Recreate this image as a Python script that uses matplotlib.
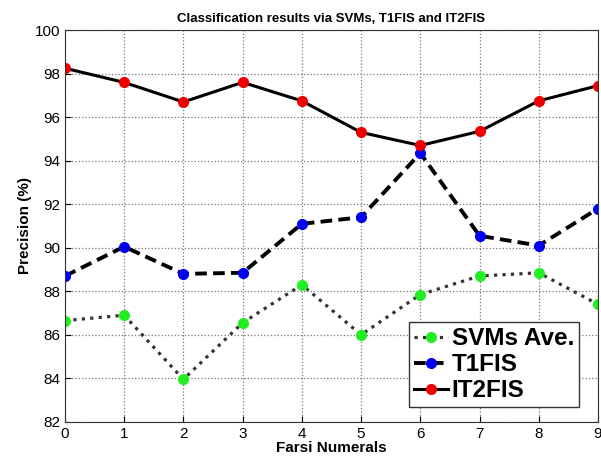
import numpy as np
import matplotlib.pyplot as plt

# Data
numerals = [0, 1, 2, 3, 4, 5, 6, 7, 8, 9]
svm_ave = [86.65, 86.9, 83.95, 86.55, 88.3, 86.0, 87.85, 88.7, 88.85, 87.4]
t1fis = [88.7, 90.05, 88.8, 88.85, 91.1, 91.4, 94.35, 90.55, 90.1, 91.8]
it2fis = [98.25, 97.6, 96.7, 97.6, 96.75, 95.3, 94.7, 95.35, 96.75, 97.45]

plt.rcParams['font.family'] = ['Liberation Sans', 'DejaVu Sans']

fig = plt.figure(figsize=(6.01, 4.57), dpi=100)
ax = fig.add_axes([0.108, 0.077, 0.887, 0.857])

ax.plot(numerals, svm_ave, color='#333333', linestyle=':', linewidth=2.3,
        marker='o', markersize=7, markerfacecolor='#22ee22', markeredgecolor='#22ee22',
        label='SVMs Ave.')
ax.plot(numerals, t1fis, color='black', linestyle='--', linewidth=2.8, dashes=(3, 1.6),
        marker='o', markersize=7, markerfacecolor='#0000ee', markeredgecolor='#0000ee',
        label='T1FIS')
ax.plot(numerals, it2fis, color='black', linestyle='-', linewidth=2.2,
        marker='o', markersize=7, markerfacecolor='#ee0000', markeredgecolor='#ee0000',
        label='IT2FIS')

ax.set_xlim(0, 9)
ax.set_ylim(82, 100)
ax.set_xticks(numerals)
ax.set_yticks(np.arange(82, 101, 2))
ax.grid(True, linestyle=':', color='#777777', linewidth=0.9)
ax.tick_params(labelsize=11, direction='in', length=4)
for sp in ax.spines.values():
    sp.set_color('#333333')

ax.set_title('Classification results via SVMs, T1FIS and IT2FIS', fontsize=9.5, fontweight='bold')
ax.set_xlabel('Farsi Numerals', fontsize=11, fontweight='bold', labelpad=0)
ax.set_ylabel('Precision (%)', fontsize=11, fontweight='bold', labelpad=2)

leg = ax.legend(loc='lower right', bbox_to_anchor=(0.964, 0.038), borderaxespad=0,
                fancybox=False, framealpha=1, edgecolor='#333333', handlelength=1.4,
                handletextpad=0.15, borderpad=0.2, labelspacing=0.12,
                prop={'size': 17.5, 'weight': 'bold'})
leg.get_frame().set_linewidth(1.0)

fig.savefig('out.png', dpi=100)
